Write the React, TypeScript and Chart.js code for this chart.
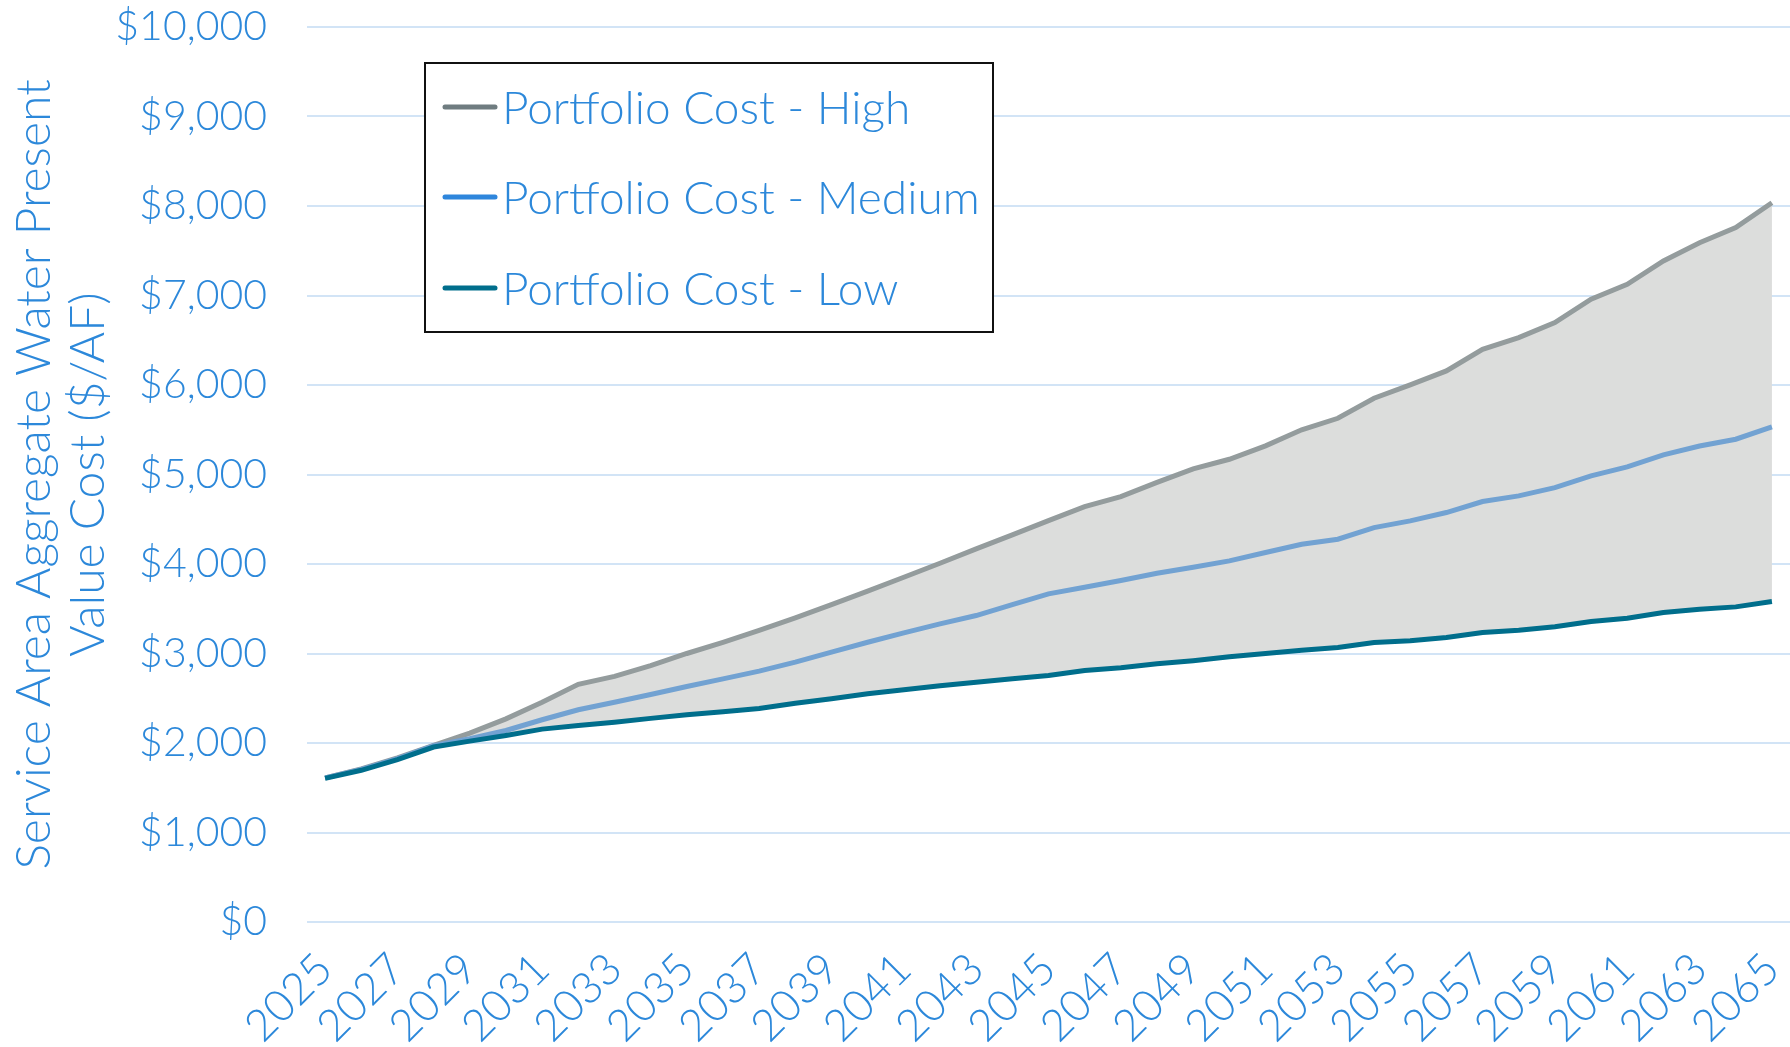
import { useEffect, useRef } from 'react';
import { Chart, registerables } from 'chart.js';

Chart.register(...registerables);

const years = [
  '2025', '2026', '2027', '2028', '2029', '2030', '2031', '2032', '2033', '2034',
  '2035', '2036', '2037', '2038', '2039', '2040', '2041', '2042', '2043', '2044',
  '2045', '2046', '2047', '2048', '2049', '2050', '2051', '2052', '2053', '2054',
  '2055', '2056', '2057', '2058', '2059', '2060', '2061', '2062', '2063', '2064',
  '2065',
];

const costHigh = [
  1610, 1710, 1835, 1975, 2110, 2270, 2455, 2655, 2745, 2865,
  3000, 3125, 3257, 3398, 3547, 3696, 3852, 4008, 4169, 4325,
  4485, 4641, 4753, 4912, 5062, 5170, 5320, 5500, 5628, 5852,
  6001, 6157, 6399, 6529, 6697, 6958, 7125, 7386, 7590, 7758,
  8037,
];

const costMedium = [
  1610, 1705, 1825, 1970, 2047, 2140, 2260, 2371, 2456, 2542,
  2631, 2717, 2803, 2903, 3015, 3126, 3231, 3331, 3424, 3547,
  3666, 3740, 3815, 3896, 3963, 4035, 4128, 4221, 4277, 4407,
  4482, 4575, 4698, 4761, 4854, 4984, 5085, 5219, 5319, 5394,
  5532,
];

const costLow = [
  1605, 1695, 1815, 1955, 2021, 2084, 2155, 2196, 2233, 2275,
  2315, 2350, 2385, 2445, 2494, 2550, 2594, 2639, 2679, 2717,
  2754, 2810, 2840, 2885, 2920, 2963, 3000, 3037, 3067, 3123,
  3142, 3179, 3235, 3261, 3298, 3357, 3395, 3458, 3495, 3521,
  3581,
];

const seriesNames = ['Portfolio Cost - High', 'Portfolio Cost - Medium', 'Portfolio Cost - Low'];
const legendColors = ['#6F7C80', '#2E86DC', '#006E8C'];
const lineColors = ['#949C9D', '#72A2D2', '#006E8C'];
const yTitle = ['Service Area Aggregate Water Present', 'Value Cost ($/AF)'];

const TEXT_BLUE = '#2C88DA';
const FONT = 'Lato, "Noto Sans", sans-serif';

const boxLegend = {
  id: 'boxLegend',
  afterDraw(chart: any) {
    const ctx = chart.ctx as CanvasRenderingContext2D;
    const x0 = 425, y0 = 63, w = 568, h = 269;
    ctx.save();
    ctx.fillStyle = '#ffffff';
    ctx.fillRect(x0, y0, w, h);
    ctx.strokeStyle = '#111111';
    ctx.lineWidth = 2;
    ctx.strokeRect(x0, y0, w, h);
    const rows = [107, 197, 288];
    ctx.font = `300 46px ${FONT}`;
    ctx.textBaseline = 'middle';
    ctx.textAlign = 'left';
    seriesNames.forEach((name, i) => {
      ctx.strokeStyle = legendColors[i];
      ctx.lineWidth = 5;
      ctx.lineCap = 'round';
      ctx.beginPath();
      ctx.moveTo(445, rows[i]);
      ctx.lineTo(495, rows[i]);
      ctx.stroke();
      ctx.fillStyle = TEXT_BLUE;
      ctx.fillText(name, 502, rows[i] + 2);
    });
    ctx.restore();
  },
};

export default function App() {
  const canvasRef = useRef<HTMLCanvasElement | null>(null);

  useEffect(() => {
    document.body.style.margin = '0';
    const canvas = canvasRef.current;
    if (!canvas) return;
    const chart = new Chart(canvas, {
      type: 'line',
      data: {
        labels: years,
        datasets: [
          {
            label: seriesNames[0],
            data: costHigh,
            borderColor: lineColors[0],
            backgroundColor: 'rgb(220,221,220)',
            borderWidth: 5,
            pointRadius: 0,
            tension: 0,
            fill: 2,
            order: 3,
          },
          {
            label: seriesNames[1],
            data: costMedium,
            borderColor: lineColors[1],
            borderWidth: 5,
            pointRadius: 0,
            tension: 0,
            fill: false,
            order: 2,
          },
          {
            label: seriesNames[2],
            data: costLow,
            borderColor: lineColors[2],
            borderWidth: 5,
            pointRadius: 0,
            tension: 0,
            fill: false,
            order: 1,
          },
        ],
      },
      options: {
        responsive: false,
        animation: false,
        layout: { padding: { top: 27, right: 0, left: 0, bottom: 0 } },
        plugins: {
          legend: { display: false },
          tooltip: { enabled: false },
        },
        scales: {
          x: {
            offset: true,
            grid: { display: false },
            border: { display: false },
            ticks: {
              autoSkip: false,
              maxRotation: 45,
              minRotation: 45,
              color: TEXT_BLUE,
              font: { family: FONT, size: 44, weight: '300' },
              padding: 13,
              callback: (_v: any, i: number) => (i % 2 === 0 ? years[i] : ''),
            },
            afterFit: (scale: any) => {
              scale.height = 125;
              scale.paddingRight = 0;
              scale.paddingLeft = 0;
            },
          },
          y: {
            min: 0,
            max: 10000,
            border: { display: false },
            grid: { color: '#D2E4F6', lineWidth: 2, drawTicks: false },
            ticks: {
              stepSize: 1000,
              color: TEXT_BLUE,
              padding: 40,
              font: { family: FONT, size: 41, weight: '300' },
              callback: (v: any) => '$' + Number(v).toLocaleString('en-US'),
            },
            title: {
              display: true,
              text: yTitle,
              color: TEXT_BLUE,
              font: { family: FONT, size: 48, weight: '300', lineHeight: 1.12 },
              padding: { top: 8, bottom: 0 },
            },
            afterFit: (scale: any) => {
              scale.width = 307;
              scale.paddingTop = 0;
              scale.paddingBottom = 0;
            },
          },
        },
      },
      plugins: [boxLegend],
    });
    return () => chart.destroy();
  }, []);

  return (
    <div style={{ width: 1790, height: 1047 }}>
      <canvas ref={canvasRef} width={1790} height={1047} style={{ display: 'block' }} />
    </div>
  );
}
